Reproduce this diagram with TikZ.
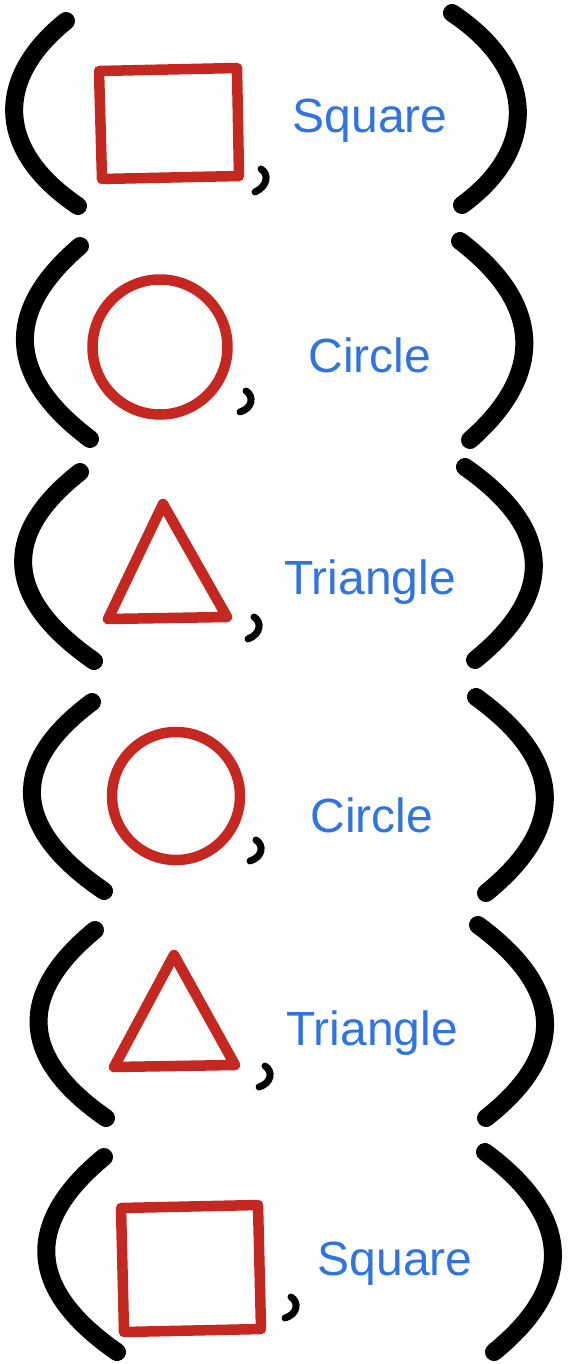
\documentclass[tikz,border=0pt]{standalone}
\usepackage{fontspec}
\setmainfont{Liberation Sans}
\definecolor{lblue}{RGB}{48,116,224}
\definecolor{sred}{RGB}{196,40,32}
\tikzset{
  paren/.style={line width=18pt, line cap=round, draw=black},
  shapeline/.style={draw=sred, line width=10.5pt, line join=round},
  commastroke/.style={draw=black, line width=7pt, line cap=round},
  namelabel/.style={text=lblue, font=\fontsize{48}{50}\selectfont, inner sep=0pt, anchor=base}
}
\begin{document}
\begin{tikzpicture}[x=1pt,y=-1pt]
\fill[white] (0,0) rectangle (570,1364);
\useasboundingbox (0,0) rectangle (570,1364);
% row 1
\draw[paren] (66,21) .. controls (-5,78) and (-5,150) .. (78,206);
\draw[shapeline] (99,71) -- (237,68) -- (239,176) -- (102,179) -- cycle;
\draw[commastroke] (261,169) .. controls (269,174) and (268,186) .. (255,192);
\node[namelabel] (l1) at (370,133) {Square};
\draw[paren] (452,13) .. controls (538,70) and (538,150) .. (462,205);
% row 2
\draw[paren] (80,246) .. controls (5,310) and (5,375) .. (90,439);
\draw[shapeline] (160,347) circle[radius=67.5];
\draw[commastroke] (246,391) .. controls (254,396) and (253,408) .. (240,412);
\node[namelabel] (l2) at (370,372) {Circle};
\draw[paren] (460,241) .. controls (544,305) and (544,375) .. (470,440);
% row 3
\draw[paren] (80,472) .. controls (2,533) and (2,597) .. (94,661);
\draw[shapeline] (163,504) -- (108,619) -- (227,617) -- cycle;
\draw[commastroke] (254,617) .. controls (262,622) and (261,634) .. (248,639);
\node[namelabel] (l3) at (370,594) {Triangle};
\draw[paren] (465,467) .. controls (555,530) and (555,595) .. (475,660);
% row 4
\draw[paren] (92,702) .. controls (10,763) and (10,827) .. (104,891);
\draw[shapeline] (176,796) circle[radius=64];
\draw[commastroke] (256,840) .. controls (264,845) and (263,857) .. (250,861);
\node[namelabel] (l4) at (372,832) {Circle};
\draw[paren] (476,697) .. controls (566,762) and (566,828) .. (486,893);
\draw[paren] (95,930) .. controls (18,993) and (18,1057) .. (106,1118);
\draw[shapeline] (174,955) -- (114,1067) -- (235,1065) -- cycle;
\draw[commastroke] (265,1066) .. controls (273,1071) and (272,1083) .. (259,1087);
\node[namelabel] (l5) at (372,1045) {Triangle};
\draw[paren] (478,925) .. controls (566,990) and (566,1055) .. (486,1118);
% row 6
\draw[paren] (104,1157) .. controls (25,1222) and (25,1288) .. (117,1352);
\draw[shapeline] (121,1208) -- (258,1205) -- (261,1329) -- (124,1332) -- cycle;
\draw[commastroke] (291,1297) .. controls (299,1302) and (298,1314) .. (285,1318);
\node[namelabel] (l6) at (395,1275) {Square};
\draw[paren] (485,1152) .. controls (574,1218) and (574,1287) .. (494,1352);
\end{tikzpicture}
\end{document}
